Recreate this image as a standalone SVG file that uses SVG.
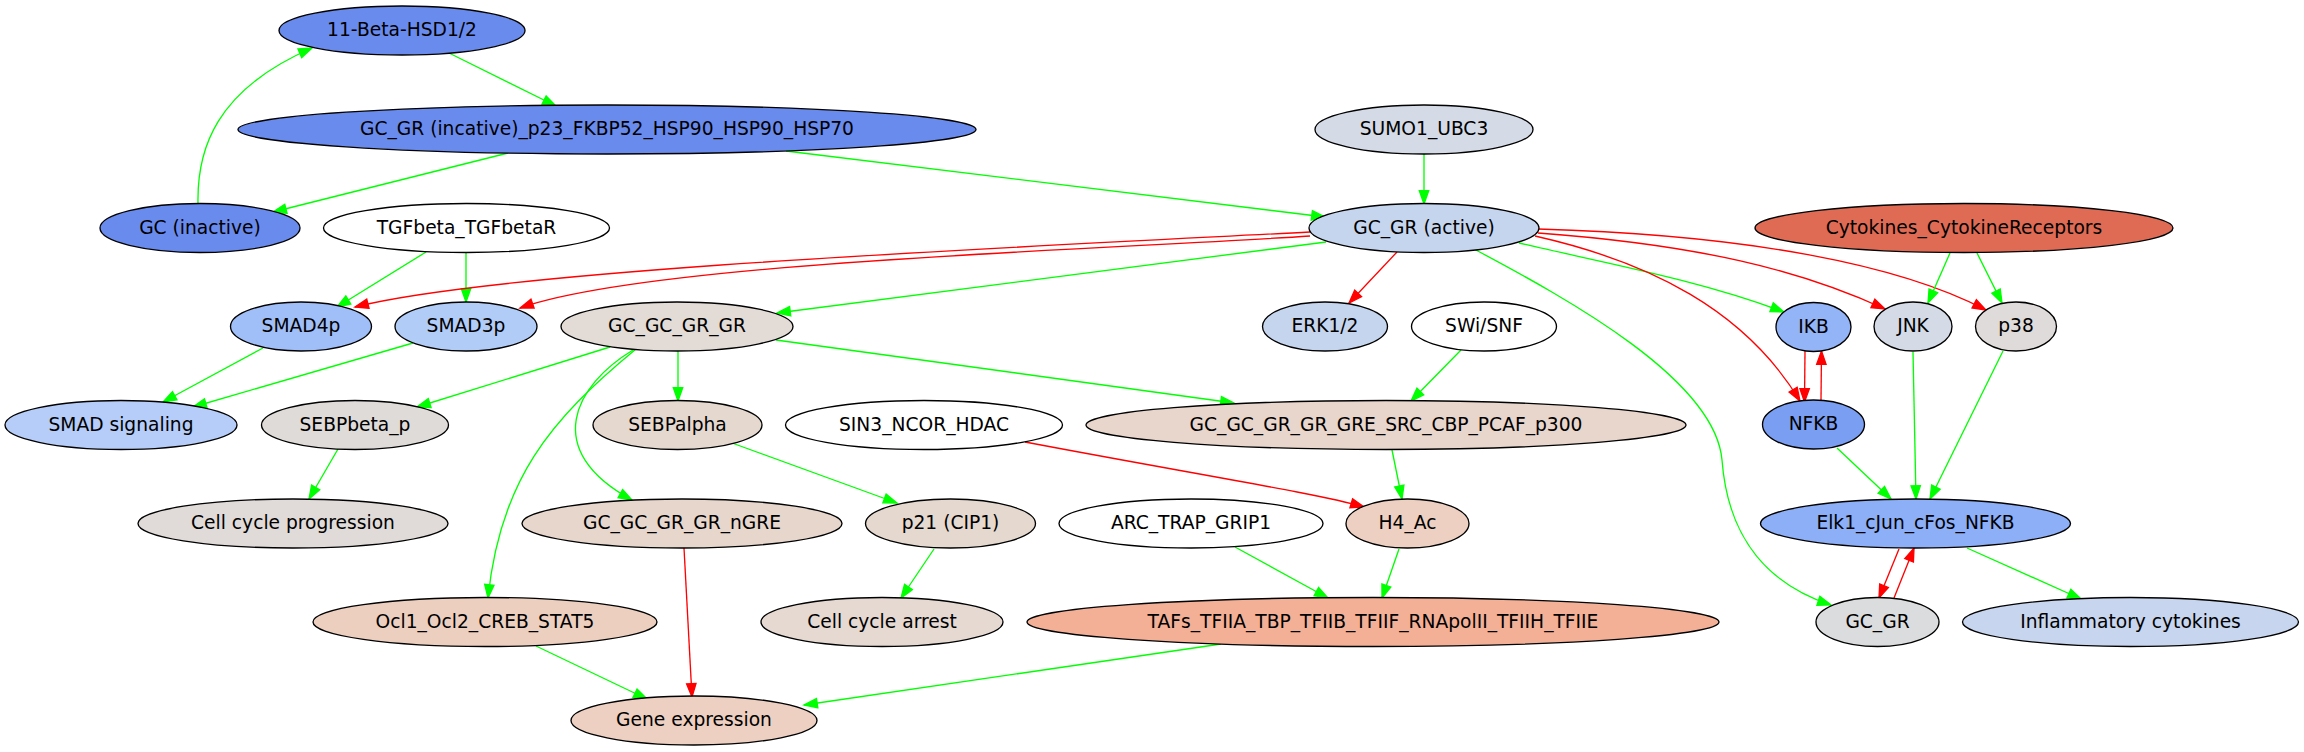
<svg xmlns="http://www.w3.org/2000/svg" width="2304" height="752" viewBox="0 0 2304 752">
<style>
.n ellipse{stroke:#000;stroke-width:1.33}
.n text{font-family:"DejaVu Sans","Liberation Sans",sans-serif;font-size:18.67px;text-anchor:middle;fill:#000}
.g{fill:none;stroke:#00ff00;stroke-width:1.33;marker-end:url(#ag)}
.r{fill:none;stroke:#ff0000;stroke-width:1.33;marker-end:url(#ar)}
</style>
<defs>
<marker id="ag" markerUnits="userSpaceOnUse" markerWidth="14" markerHeight="10" refX="13.3" refY="4.7" orient="auto" overflow="visible"><path d="M0,0 L13.3,4.7 L0,9.4 z" fill="#00ff00" stroke="#00ff00" stroke-width="1.33"/></marker>
<marker id="ar" markerUnits="userSpaceOnUse" markerWidth="14" markerHeight="10" refX="13.3" refY="4.7" orient="auto" overflow="visible"><path d="M0,0 L13.3,4.7 L0,9.4 z" fill="#ff0000" stroke="#ff0000" stroke-width="1.33"/></marker>
</defs>
<rect width="2304" height="752" fill="#fff"/>
<g id="edges">
<path class="g" d="M198,203 C197,150 215,90 312,48"/>
<path class="g" d="M449,53 L556,106"/>
<path class="g" d="M508,153 L273,212"/>
<path class="g" d="M786,151 L1325,217"/>
<path class="g" d="M1424,154 L1424,204"/>
<path class="g" d="M426,252 L337,307"/>
<path class="g" d="M466,253 L466,302"/>
<path class="r" d="M1310,232 C1000,248 500,270 355,307"/>
<path class="r" d="M1310,236 C1100,250 650,262 520,308"/>
<path class="g" d="M1326,242 L777,313"/>
<path class="r" d="M1397,252 L1349,303"/>
<path class="g" d="M1474,249 C1570,300 1715,380 1722,460 C1728,540 1770,585 1831,605"/>
<path class="g" d="M1519,243 C1600,262 1700,280 1784,312"/>
<path class="r" d="M1535,236 C1650,262 1745,310 1800,401"/>
<path class="r" d="M1538,233 C1700,245 1800,270 1885,309"/>
<path class="r" d="M1538,229 C1750,235 1900,265 1986,310"/>
<path class="g" d="M1950,253 L1928,303"/>
<path class="g" d="M1977,253 L2002,303"/>
<path class="r" d="M1805,351 L1804.5,402"/>
<path class="r" d="M1821,400 L1821.5,351"/>
<path class="g" d="M1837,448 L1891,499"/>
<path class="g" d="M1913,352 L1916,499"/>
<path class="g" d="M2003,351 L1930,499"/>
<path class="r" d="M1899,549 L1879,598"/>
<path class="r" d="M1894,598 L1914,548"/>
<path class="g" d="M1967,548 L2081,599"/>
<path class="g" d="M263,348 L163,402"/>
<path class="g" d="M413,343 L193,407"/>
<path class="g" d="M610,347 L417,407"/>
<path class="g" d="M678,351 L678,401"/>
<path class="g" d="M633,350 C575,385 540,450 632,500"/>
<path class="g" d="M636,349 C550,420 500,480 488,598"/>
<path class="g" d="M776,340 L1234,403"/>
<path class="g" d="M1461,350 L1411,401"/>
<path class="g" d="M1392,450 L1402,499"/>
<path class="r" d="M1025,442 C1200,475 1320,494 1364,507"/>
<path class="g" d="M732,443 L897,503"/>
<path class="g" d="M338,449 L309,499"/>
<path class="g" d="M934,549 L901,598"/>
<path class="g" d="M1235,547 L1328,598"/>
<path class="g" d="M1399,549 L1382,598"/>
<path class="g" d="M1221,644 L804,705"/>
<path class="g" d="M536,646 L647,699"/>
<path class="r" d="M684,548 L692,697"/>
</g>
<g id="n1" class="n"><ellipse cx="402" cy="30.5" rx="123" ry="24.5" fill="#6a8bee"/><text x="402" y="36">11-Beta-HSD1/2</text></g>
<g id="n2" class="n"><ellipse cx="607" cy="129.5" rx="369" ry="24.5" fill="#6a8bee"/><text x="607" y="135">GC_GR (incative)_p23_FKBP52_HSP90_HSP90_HSP70</text></g>
<g id="n3" class="n"><ellipse cx="200" cy="228" rx="100" ry="24.5" fill="#6a8bee"/><text x="200" y="233.5">GC (inactive)</text></g>
<g id="n4" class="n"><ellipse cx="466.5" cy="228" rx="143" ry="24.5" fill="#ffffff"/><text x="466.5" y="233.5">TGFbeta_TGFbetaR</text></g>
<g id="n5" class="n"><ellipse cx="1424" cy="129.5" rx="109" ry="24.5" fill="#d4dae6"/><text x="1424" y="135">SUMO1_UBC3</text></g>
<g id="n6" class="n"><ellipse cx="1424" cy="228" rx="115" ry="24.5" fill="#c6d5ee"/><text x="1424" y="233.5">GC_GR (active)</text></g>
<g id="n7" class="n"><ellipse cx="1964" cy="228" rx="209" ry="24.5" fill="#e06b55"/><text x="1964" y="233.5">Cytokines_CytokineReceptors</text></g>
<g id="n8" class="n"><ellipse cx="301" cy="326.5" rx="70.5" ry="24.5" fill="#a0bff8"/><text x="301" y="332">SMAD4p</text></g>
<g id="n9" class="n"><ellipse cx="466" cy="326.5" rx="71" ry="24.5" fill="#b2ccf8"/><text x="466" y="332">SMAD3p</text></g>
<g id="n10" class="n"><ellipse cx="677" cy="326.5" rx="116" ry="24.5" fill="#e2dbd6"/><text x="677" y="332">GC_GC_GR_GR</text></g>
<g id="n11" class="n"><ellipse cx="1325" cy="326.5" rx="62.5" ry="24.5" fill="#c6d5ee"/><text x="1325" y="332">ERK1/2</text></g>
<g id="n12" class="n"><ellipse cx="1484" cy="326.5" rx="72.5" ry="24.5" fill="#ffffff"/><text x="1484" y="332">SWi/SNF</text></g>
<g id="n13" class="n"><ellipse cx="1813.5" cy="327" rx="37.5" ry="24.5" fill="#94b4f8"/><text x="1813.5" y="332.5">IKB</text></g>
<g id="n14" class="n"><ellipse cx="1913" cy="326.5" rx="39" ry="24.5" fill="#d4dae6"/><text x="1913" y="332">JNK</text></g>
<g id="n15" class="n"><ellipse cx="2016" cy="326.5" rx="40.5" ry="24.5" fill="#dfdbda"/><text x="2016" y="332">p38</text></g>
<g id="n16" class="n"><ellipse cx="121" cy="425" rx="116" ry="24.5" fill="#b5cdf8"/><text x="121" y="430.5">SMAD signaling</text></g>
<g id="n17" class="n"><ellipse cx="355" cy="425" rx="93.5" ry="24.5" fill="#dfdbd8"/><text x="355" y="430.5">SEBPbeta_p</text></g>
<g id="n18" class="n"><ellipse cx="677.5" cy="425" rx="84.5" ry="24.5" fill="#e5d8cf"/><text x="677.5" y="430.5">SEBPalpha</text></g>
<g id="n19" class="n"><ellipse cx="924" cy="425" rx="138.5" ry="24.5" fill="#ffffff"/><text x="924" y="430.5">SIN3_NCOR_HDAC</text></g>
<g id="n20" class="n"><ellipse cx="1386" cy="425" rx="300" ry="24.5" fill="#e8d5cb"/><text x="1386" y="430.5">GC_GC_GR_GR_GRE_SRC_CBP_PCAF_p300</text></g>
<g id="n21" class="n"><ellipse cx="1813.5" cy="424.5" rx="51" ry="24.5" fill="#7a9ef2"/><text x="1813.5" y="430">NFKB</text></g>
<g id="n22" class="n"><ellipse cx="293" cy="523.5" rx="155" ry="24.5" fill="#e0dbd8"/><text x="293" y="529">Cell cycle progression</text></g>
<g id="n23" class="n"><ellipse cx="682" cy="523.5" rx="160" ry="24.5" fill="#e7d6cc"/><text x="682" y="529">GC_GC_GR_GR_nGRE</text></g>
<g id="n24" class="n"><ellipse cx="950.5" cy="523.5" rx="85" ry="24.5" fill="#e5d8cf"/><text x="950.5" y="529">p21 (CIP1)</text></g>
<g id="n25" class="n"><ellipse cx="1191" cy="523.5" rx="132" ry="24.5" fill="#ffffff"/><text x="1191" y="529">ARC_TRAP_GRIP1</text></g>
<g id="n26" class="n"><ellipse cx="1407.5" cy="523.5" rx="61.5" ry="24.5" fill="#edd0c1"/><text x="1407.5" y="529">H4_Ac</text></g>
<g id="n27" class="n"><ellipse cx="1915.5" cy="523.5" rx="155" ry="24.5" fill="#8caff8"/><text x="1915.5" y="529">Elk1_cJun_cFos_NFKB</text></g>
<g id="n28" class="n"><ellipse cx="485" cy="622" rx="172" ry="24.5" fill="#edcfbf"/><text x="485" y="627.5">Ocl1_Ocl2_CREB_STAT5</text></g>
<g id="n29" class="n"><ellipse cx="882" cy="622" rx="121" ry="24.5" fill="#e5d9d2"/><text x="882" y="627.5">Cell cycle arrest</text></g>
<g id="n30" class="n"><ellipse cx="1373" cy="622" rx="346" ry="24.5" fill="#f4b096"/><text x="1373" y="627.5">TAFs_TFIIA_TBP_TFIIB_TFIIF_RNApolII_TFIIH_TFIIE</text></g>
<g id="n31" class="n"><ellipse cx="1877.5" cy="622" rx="61.5" ry="24.5" fill="#dbdcdd"/><text x="1877.5" y="627.5">GC_GR</text></g>
<g id="n32" class="n"><ellipse cx="2130.5" cy="622" rx="168" ry="24.5" fill="#c7d5ee"/><text x="2130.5" y="627.5">Inflammatory cytokines</text></g>
<g id="n33" class="n"><ellipse cx="694" cy="720.5" rx="123" ry="24.5" fill="#edd0c1"/><text x="694" y="726">Gene expression</text></g>
</svg>
